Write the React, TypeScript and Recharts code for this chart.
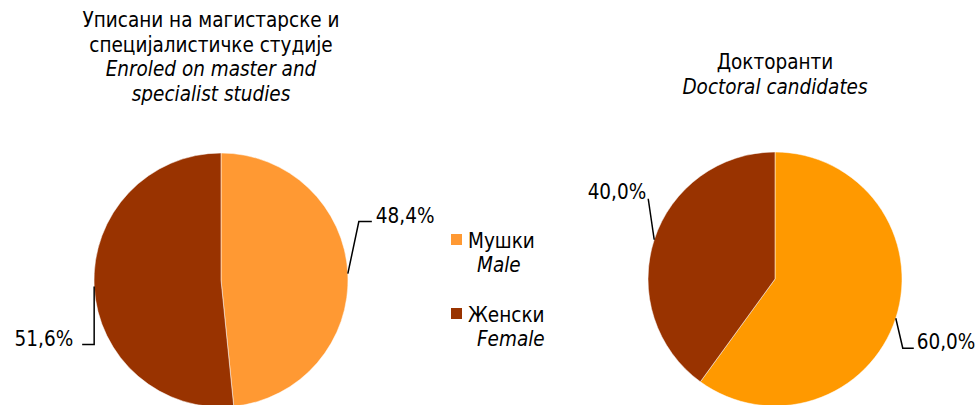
import { PieChart, Pie, Cell } from 'recharts'

const categories = ['Мушки', 'Женски']
const categoriesEn = ['Male', 'Female']
const masterValues = [48.4, 51.6]
const doctoralValues = [60.0, 40.0]

const masterColors = ['#FF9933', '#993300']
const doctoralColors = ['#FF9900', '#993300']

const FONT = 'Tahoma, "DejaVu Sans Condensed", "DejaVu Sans", sans-serif'
const RAD = Math.PI / 180

const masterData = categories.map((name, i) => ({ name, value: masterValues[i] }))
const doctoralData = categories.map((name, i) => ({ name, value: doctoralValues[i] }))

// leader line shape per slice: elbow offset from arc point, horizontal tail, text nudge
interface LeaderCfg {
  ex: number
  ey: number
  tail: number
  tx: number
  ty: number
}

const masterLeaders: LeaderCfg[] = [
  { ex: 11, ey: -52, tail: 13, tx: 4, ty: -6 },
  { ex: 0, ey: 58, tail: -12, tx: -9, ty: -5 },
]
const doctoralLeaders: LeaderCfg[] = [
  { ex: 7, ey: 30, tail: 11, tx: 3, ty: -6 },
  { ex: -6, ey: -41, tail: 0, tx: -2, ty: -7 },
]

const fmt = (v: number) => `${v.toFixed(1).replace('.', ',')}%`

const makeLabel = (cfgs: LeaderCfg[]) => (props: any) => {
  const { cx, cy, midAngle, outerRadius, value, index } = props
  const cfg = cfgs[index]
  const x0 = cx + outerRadius * Math.cos(-midAngle * RAD)
  const y0 = cy + outerRadius * Math.sin(-midAngle * RAD)
  const x1 = x0 + cfg.ex
  const y1 = y0 + cfg.ey
  const x2 = x1 + cfg.tail
  const right = cfg.tail > 0 || (cfg.tail === 0 && cfg.ex > 0)
  return (
    <g key={`lbl-${index}`}>
      <polyline
        points={`${x0},${y0} ${x1},${y1} ${x2},${y1}`}
        fill="none"
        stroke="#000"
        strokeWidth={1.5}
      />
      <text
        x={x2 + cfg.tx}
        y={y1 + cfg.ty}
        textAnchor={right ? 'start' : 'end'}
        dominantBaseline="central"
        fontFamily={FONT}
        fontSize={20.5}
        fill="#000"
      >
        {fmt(value)}
      </text>
    </g>
  )
}

export default function App() {
  return (
    <div style={{ position: 'absolute', left: 0, top: 0, width: 976, height: 405, background: '#fff', fontFamily: FONT }}>
      <PieChart
        width={976}
        height={405}
        margin={{ top: 0, right: 0, bottom: 0, left: 0 }}
        style={{ position: 'absolute', left: 0, top: 0 }}
      >
        <Pie
          data={masterData}
          dataKey="value"
          nameKey="name"
          cx={221}
          cy={280}
          outerRadius={127}
          startAngle={90}
          endAngle={-270}
          stroke="#fff"
          strokeWidth={0.5}
          label={makeLabel(masterLeaders)}
          labelLine={false}
          isAnimationActive={false}
        >
          {masterData.map((d, i) => (
            <Cell key={d.name} fill={masterColors[i]} />
          ))}
        </Pie>
        <Pie
          data={doctoralData}
          dataKey="value"
          nameKey="name"
          cx={775}
          cy={279}
          outerRadius={127}
          startAngle={90}
          endAngle={-270}
          stroke="#fff"
          strokeWidth={0.5}
          label={makeLabel(doctoralLeaders)}
          labelLine={false}
          isAnimationActive={false}
        >
          {doctoralData.map((d, i) => (
            <Cell key={d.name} fill={doctoralColors[i]} />
          ))}
        </Pie>
      </PieChart>

      <div style={{ position: 'absolute', left: 11, top: 8, width: 400, textAlign: 'center', fontSize: 20.5, lineHeight: '24.5px', color: '#000' }}>
        <div>Уписани на магистарске и</div>
        <div>специјалистичке студије</div>
        <div style={{ fontStyle: 'italic' }}>Enroled on master and</div>
        <div style={{ fontStyle: 'italic' }}>specialist studies</div>
      </div>

      <div style={{ position: 'absolute', left: 575, top: 50, width: 400, textAlign: 'center', fontSize: 20.5, lineHeight: '24.5px', color: '#000' }}>
        <div>Докторанти</div>
        <div style={{ fontStyle: 'italic' }}>Doctoral candidates</div>
      </div>

      <div style={{ position: 'absolute', left: 451, top: 229, fontSize: 20.5, color: '#000' }}>
        {categories.map((c, i) => (
          <div key={c} style={{ position: 'relative', height: 74 }}>
            <div style={{ position: 'absolute', left: 0, top: 5, width: 11, height: 11, background: masterColors[i] }} />
            <div style={{ position: 'absolute', left: 17, top: 0, lineHeight: '24px', whiteSpace: 'nowrap' }}>{c}</div>
            <div style={{ position: 'absolute', left: 26, top: 24, lineHeight: '24px', fontStyle: 'italic', whiteSpace: 'nowrap' }}>{categoriesEn[i]}</div>
          </div>
        ))}
      </div>
    </div>
  )
}
